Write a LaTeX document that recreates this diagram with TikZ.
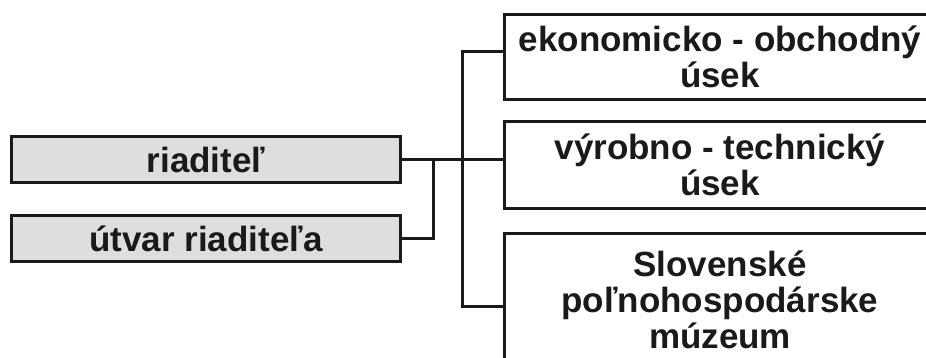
\documentclass[tikz,border=0pt]{standalone}
\usepackage{fontspec}
\setmainfont{Liberation Sans}

\definecolor{boxgray}{RGB}{222,222,222}
\definecolor{inkcolor}{RGB}{26,26,26}

\tikzset{
  orgbox/.style={draw=inkcolor, line width=3pt, inner sep=0pt, align=center,
    text=inkcolor, font=\fontsize{35}{36}\selectfont\bfseries},
  headbox/.style={orgbox, fill=boxgray, minimum width=389pt, minimum height=46pt},
  unitbox/.style={orgbox, fill=white, minimum width=431pt},
  orgline/.style={draw=inkcolor, line width=3pt, line join=miter}
}

\begin{document}
\begin{tikzpicture}[x=1pt, y=-1pt]
\useasboundingbox (0,0) rectangle (926,358);
\clip (0,0) rectangle (926,358);

% left side
\node[headbox] (riaditel) at (206,159.5) {riaditeľ};
\node[headbox] (utvar) at (206,238.5) {útvar riaditeľa};

% right side
\node[unitbox, minimum height=85pt] (ekonom) at (720,57) {ekonomicko - obchodný\\úsek};
\node[unitbox, minimum height=87pt] (vyroba) at (720,165) {výrobno - technický\\úsek};
\node[unitbox, minimum height=133pt] (muzeum) at (720,300) {Slovenské\\poľnohospodárske\\múzeum};

% junctions
\coordinate (staff) at (433,159.5);
\coordinate (trunk) at (462,159.5);

% connectors
\draw[orgline] (riaditel.east) -- (vyroba.west |- riaditel.east);
\draw[orgline] (utvar.east) -| (staff);
\draw[orgline] ([yshift=5pt]ekonom.west) -| (trunk);
\draw[orgline] ([yshift=-6pt]muzeum.west) -| (trunk);
\end{tikzpicture}
\end{document}
